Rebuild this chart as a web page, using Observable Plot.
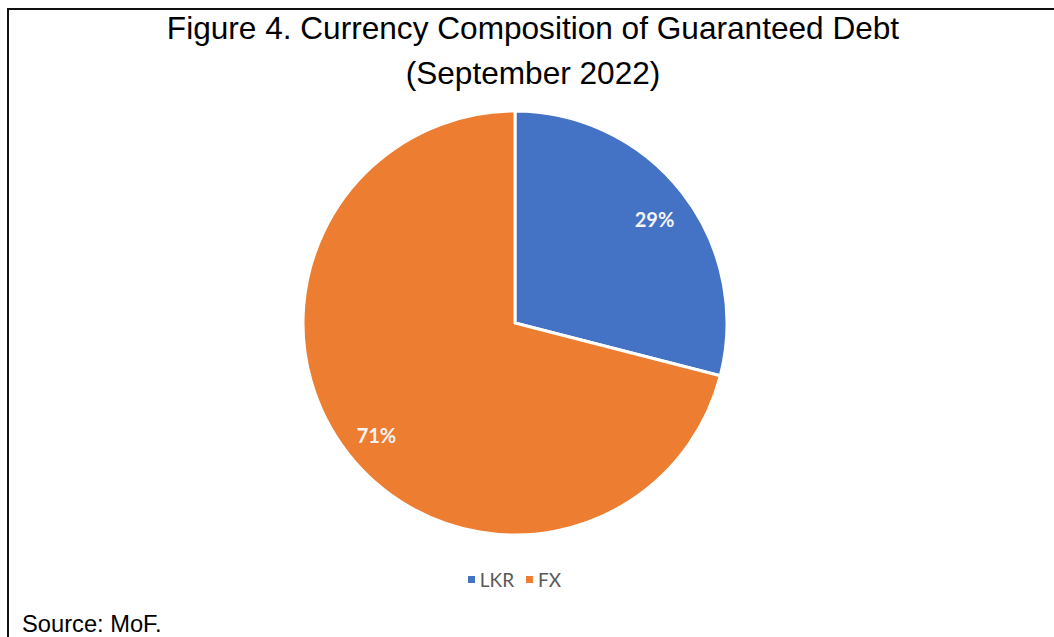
<!DOCTYPE html>
<html><head><meta charset="utf-8">
<script src="https://cdn.jsdelivr.net/npm/d3@7"></script>
<script src="https://cdn.jsdelivr.net/npm/@observablehq/plot@0.6"></script>
<style>
body{margin:0;background:#fff;}
#wrap{position:relative;width:1054px;height:637px;overflow:hidden;background:#fff;}
#frame{position:absolute;left:7px;top:8px;width:1100px;height:700px;border-left:2px solid #111;border-top:2px solid #111;}
.t{position:absolute;left:0;width:1066px;text-align:center;font-family:"Liberation Sans",Arial,sans-serif;font-size:31.6px;line-height:31.6px;color:#000;white-space:nowrap;}
#src{position:absolute;left:22px;top:613px;font-family:"Liberation Sans",Arial,sans-serif;font-size:23.7px;line-height:23.7px;color:#000;}
#chart{position:absolute;left:285px;top:93px;}
#leg{position:absolute;left:0;top:563px;width:1041px;}
.lg-swatch{margin-right:12px !important;}
.lg-swatch > svg{margin-right:5px !important;}
</style></head>
<body>
<div id="wrap">
  <div id="frame"></div>
  <div class="t" style="top:13px">Figure 4. Currency Composition of Guaranteed Debt</div>
  <div class="t" style="top:58px">(September 2022)</div>
  <div id="chart"></div>
  <div id="leg"></div>
  <div id="src">Source: MoF.</div>
</div>
<script>
const categories = ["LKR", "FX"];
const shares = [29, 71];
const shareLabels = ["29%", "71%"];
const colors = ["#4472C4", "#ED7D31"];

const data = categories.map((c, i) => ({category: c, value: shares[i], label: shareLabels[i]}));
const W = 460, H = 460, R = 212;
const arcs = d3.pie().sort(null).value(d => d.value)(data);
const arc = d3.arc().innerRadius(0).outerRadius(R);
const labelArc = d3.arc().innerRadius(R * 0.83).outerRadius(R * 0.83);
const color = Plot.scale({color: {type: "ordinal", domain: categories, range: colors}});

const pieMark = (index, scales, values, dims) => {
  const cx = dims.width / 2, cy = dims.height / 2;
  const g = d3.create("svg:g").attr("transform", `translate(${cx},${cy})`);
  g.selectAll("path").data(arcs).join("path")
    .attr("d", arc)
    .attr("fill", d => color.apply(d.data.category))
    .attr("stroke", "#fff")
    .attr("stroke-width", 3)
    .attr("stroke-linejoin", "round");
  return g.node();
};

const chart = Plot.plot({
  width: W, height: H,
  margin: 0,
  x: {type: "identity"},
  y: {type: "identity"},
  axis: null,
  marks: [
    pieMark,
    Plot.text(arcs, {
      x: d => W / 2 + labelArc.centroid(d)[0],
      y: d => H / 2 + labelArc.centroid(d)[1],
      text: d => d.data.label,
      dy: 5,
      fill: "#f4f4f4",
      fontSize: 20,
      fontWeight: "bold",
      fontFamily: "Lato, 'Open Sans', sans-serif"
    })
  ]
});
document.getElementById("chart").appendChild(chart);

const legend = Plot.legend({
  color: {type: "ordinal", domain: categories, range: colors},
  legend: "swatches",
  swatchSize: 7,
  className: "lg",
  style: {justifyContent: "center", fontFamily: "Lato, 'Open Sans', sans-serif", fontSize: "19px", color: "#595959"}
});
document.getElementById("leg").appendChild(legend);
</script>
</body></html>
